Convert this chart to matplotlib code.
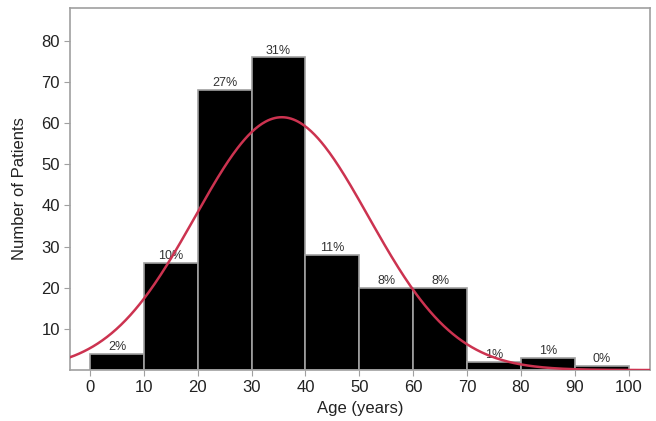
import numpy as np
import matplotlib.pyplot as plt

plt.rcParams['font.family'] = ['Liberation Sans', 'DejaVu Sans']

bin_edges = [0, 10, 20, 30, 40, 50, 60, 70, 80, 90, 100]
counts = [4, 26, 68, 76, 28, 20, 20, 2, 3, 1]
percent_labels = ['2%', '10%', '27%', '31%', '11%', '8%', '8%', '1%', '1%', '0%']

# normal fit
mean_age = 35.6
sd_age = 16.1

total = sum(counts)
x = np.linspace(-4, 104, 500)
curve = total * 10 * np.exp(-0.5 * ((x - mean_age) / sd_age) ** 2) / (sd_age * np.sqrt(2 * np.pi))

fig = plt.figure(figsize=(6.56, 4.21), dpi=100)
ax = fig.add_axes([0.107, 0.121, 0.884, 0.86])

left = bin_edges[:-1]
ax.bar(left, counts, width=10, align='edge', color='black', edgecolor='#a0a0a0', linewidth=1.2, zorder=2)
for l, c, p in zip(left, counts, percent_labels):
    ax.text(l + 5, c + 0.2, p, ha='center', va='bottom', fontsize=9, color='#333333', zorder=3)

ax.plot(x, curve, color='#cc3350', linewidth=1.8, zorder=4)

ax.set_xlim(-3.7, 104)
ax.set_ylim(0, 88)
ax.set_xticks(range(0, 101, 10))
ax.set_yticks(range(10, 81, 10))
ax.tick_params(labelsize=12, color='#a0a0a0', length=4, labelcolor='#222222')
ax.set_xlabel('Age (years)', fontsize=12, color='#222222')
ax.set_ylabel('Number of Patients', fontsize=12, color='#222222', labelpad=10)
for s in ax.spines.values():
    s.set_color('#a0a0a0')
    s.set_linewidth(1.2)

plt.savefig('out.png', dpi=100)
